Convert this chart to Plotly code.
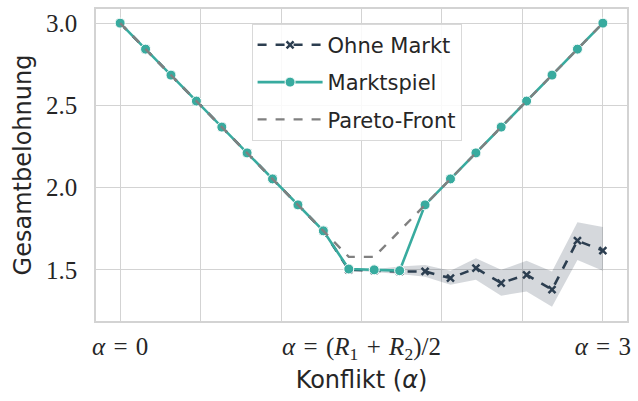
import plotly.graph_objects as go

# Konfliktparameter alpha (20 Stützstellen zwischen 0 und 3)
alpha = [0.000, 0.158, 0.316, 0.474, 0.632, 0.789, 0.947, 1.105, 1.263, 1.421,
         1.579, 1.737, 1.895, 2.053, 2.211, 2.368, 2.526, 2.684, 2.842, 3.000]

pareto_front = [3.000, 2.842, 2.684, 2.526, 2.368, 2.211, 2.053, 1.895, 1.737, 1.579,
                1.579, 1.737, 1.895, 2.053, 2.211, 2.368, 2.526, 2.684, 2.842, 3.000]

marktspiel = [3.000, 2.842, 2.684, 2.526, 2.368, 2.211, 2.053, 1.895, 1.737, 1.505,
              1.500, 1.495, 1.895, 2.053, 2.211, 2.368, 2.526, 2.684, 2.842, 3.000]

ohne_markt = [3.000, 2.842, 2.684, 2.526, 2.368, 2.211, 2.053, 1.895, 1.737, 1.500,
              1.495, 1.490, 1.490, 1.450, 1.510, 1.420, 1.470, 1.380, 1.677, 1.617]
ohne_markt_lo = [3.000, 2.842, 2.684, 2.526, 2.368, 2.211, 2.053, 1.895, 1.737, 1.497,
                 1.487, 1.475, 1.458, 1.410, 1.440, 1.343, 1.369, 1.275, 1.560, 1.494]
ohne_markt_hi = [3.000, 2.842, 2.684, 2.526, 2.368, 2.211, 2.053, 1.895, 1.737, 1.503,
                 1.503, 1.520, 1.530, 1.494, 1.571, 1.500, 1.556, 1.490, 1.790, 1.760]

SP = "\u2004"  # etwas breiterer Abstand um Operatoren (Formelsatz)
x_tickvals = [0, 1.5, 3.0]
x_ticktext = [f"<i>α</i>{SP}={SP}0",
              f"<i>α</i>{SP}={SP}(<i>R</i><sub>1</sub>{SP}+{SP}<i>R</i><sub>2</sub>)/2",
              f"<i>α</i>{SP}={SP}3"]
y_tickvals = [1.5, 2.0, 2.5, 3.0]
y_ticktext = ["1.5", "2.0", "2.5", "3.0"]

DARK = "#2c3e50"
TEAL = "#38ab9f"
GREY = "#808080"
GRID = "#d3d3d3"
TEXT = "#262626"

fig = go.Figure()

# Streuband um "Ohne Markt"
fig.add_trace(go.Scatter(x=alpha, y=ohne_markt_hi, mode="lines", line=dict(width=0),
                         showlegend=False, hoverinfo="skip"))
fig.add_trace(go.Scatter(x=alpha, y=ohne_markt_lo, mode="lines", line=dict(width=0),
                         fill="tonexty", fillcolor="rgba(44,62,80,0.2)",
                         showlegend=False, hoverinfo="skip"))

fig.add_trace(go.Scatter(
    x=alpha, y=ohne_markt, name="Ohne Markt", mode="lines+markers", legendgroup="a",
    line=dict(color=DARK, width=2.6, dash="dash"),
    marker=dict(symbol="x-thin", size=7, color=DARK,
                line=dict(color=DARK, width=2.5)),
))
fig.add_trace(go.Scatter(
    x=alpha, y=marktspiel, name="Marktspiel", mode="lines+markers", legendgroup="b",
    line=dict(color=TEAL, width=2.6),
    marker=dict(symbol="circle", size=10, color=TEAL, line=dict(color="white", width=1)),
))
fig.add_trace(go.Scatter(
    x=alpha, y=pareto_front, name="Pareto-Front", mode="lines", legendgroup="c",
    line=dict(color=GREY, width=2.4, dash="dash"),
))

axis_common = dict(
    showgrid=True, gridcolor=GRID, gridwidth=1.3,
    showline=True, linecolor=GRID, linewidth=1.6, mirror=True,
    zeroline=False, ticks="outside", tickcolor="rgba(0,0,0,0)",
)

fig.update_xaxes(
    range=[-0.15, 3.15], tickvals=x_tickvals, ticktext=x_ticktext, ticklen=2,
    minor=dict(tickvals=[0.5, 1.0, 2.0, 2.5], showgrid=True, gridcolor=GRID, gridwidth=1.3,
               ticks=""),
    tickfont=dict(family="Liberation Serif", size=25, color=TEXT),
    title=dict(text="Konflikt (<i>α</i>)", font=dict(family="DejaVu Sans", size=24, color=TEXT),
               standoff=8),
    **axis_common,
)
fig.update_yaxes(
    range=[1.189, 3.086], tickvals=y_tickvals, ticktext=y_ticktext, ticklen=12,
    tickfont=dict(family="Liberation Serif", size=25, color=TEXT),
    title=dict(text="Gesamtbelohnung", font=dict(family="DejaVu Sans", size=24, color=TEXT),
               standoff=8),
    **axis_common,
)

fig.update_layout(
    width=638, height=401,
    margin=dict(l=96, r=10, t=7, b=80),
    paper_bgcolor="white", plot_bgcolor="white",
    showlegend=True,
    legend=dict(
        x=0.293, y=0.953, xanchor="left", yanchor="top",
        bgcolor="rgba(255,255,255,0.85)", bordercolor="#d9d9d9", borderwidth=1,
        font=dict(family="DejaVu Sans", size=21, color=TEXT),
        traceorder="grouped", tracegroupgap=7, itemwidth=65,
    ),
)

fig.write_html("out.html")
